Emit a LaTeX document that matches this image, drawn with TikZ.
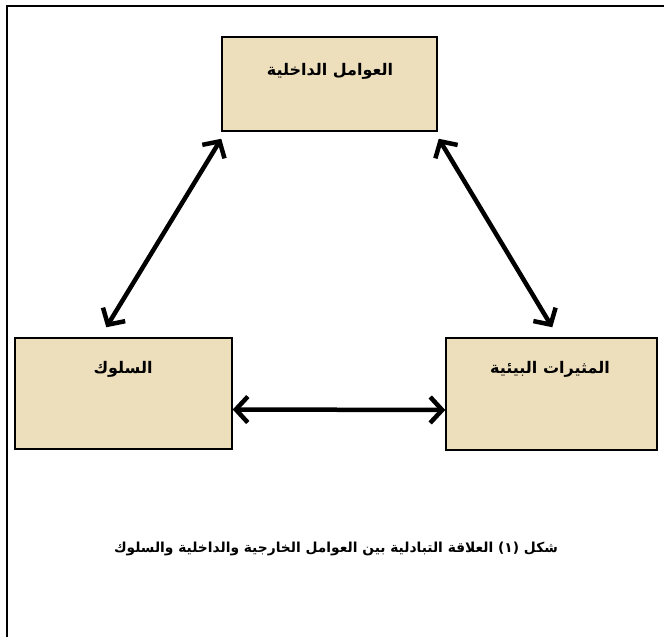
\documentclass[tikz,border=0pt]{standalone}
\usepackage{fontspec}
\usetikzlibrary{arrows.meta,calc}
\TeXXeTstate=1
\newfontfamily\arabicfont[Script=Arabic]{DejaVu Sans}
\definecolor{parch}{RGB}{237,222,188}
\begin{document}
\begin{tikzpicture}[x=1pt,y=-1pt,
  box/.style={draw=black, line width=1.5pt, fill=parch, inner sep=0pt},
  lbl/.style={font=\arabicfont\bfseries\fontsize{16}{18}\selectfont, inner sep=0pt},
  captxt/.style={font=\arabicfont\bfseries\fontsize{13.8}{16}\selectfont, inner sep=0pt},
  conn/.style={line width=4.5pt, line cap=round, {Straight Barb[length=12pt,width=26pt,line width=4.5pt]}-{Straight Barb[length=12pt,width=26pt,line width=4.5pt]}}]
\useasboundingbox (0,0) rectangle (664,637);
\draw[line width=2pt] (664,6) -- (7,6) -- (7,637);
\node[box, minimum width=215pt, minimum height=94pt] (top) at (329.5,84) {};
\node[box, minimum width=217pt, minimum height=111pt] (beh) at (123.5,393.5) {};
\node[box, minimum width=211pt, minimum height=112pt] (env) at (551.5,394) {};
\node[lbl] (toplbl) at (330,71) {\beginR العوامل الداخلية\endR};
\node[lbl] (behlbl) at (123,369) {\beginR السلوك\endR};
\node[lbl] (envlbl) at (550,369) {\beginR المثيرات البيئية\endR};
\node[captxt] (caption) at (336,549) {\beginR شكل (١) العلاقة التبادلية بين العوامل الخارجية والداخلية والسلوك\endR};
\coordinate (a1) at ($(top.south west)+(0,7)$);
\coordinate (a2) at ($(beh.north west)+(92,-10)$);
\coordinate (b1) at ($(top.south east)+(1,7)$);
\coordinate (b2) at ($(env.north west)+(107,-10)$);
\coordinate (c1) at ($(beh.east)+(0,16)$);
\coordinate (c2) at ($(env.west)+(0,16)$);
\draw[conn] (a1) -- (a2);
\draw[conn] (b1) -- (b2);
\draw[conn] (c1) -- (c2);
\end{tikzpicture}
\end{document}
